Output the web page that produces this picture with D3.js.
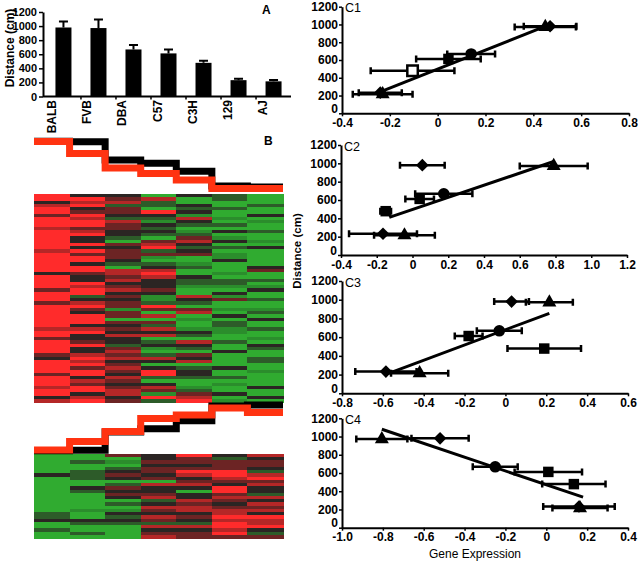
<!DOCTYPE html>
<html><head><meta charset="utf-8">
<script src="https://cdn.jsdelivr.net/npm/d3@7"></script>
<style>body{margin:0;background:#fff}svg{display:block;font-family:"Liberation Sans",Arial,sans-serif}</style>
</head><body>
<svg id="chart" width="640" height="561"></svg>
<script>
// ---------- data ----------
const strains = ["BALB","FVB","DBA","C57","C3H","129","AJ"];
const distanceMean = [980, 972, 668, 612, 478, 232, 215];
const distanceErr = [85, 120, 65, 55, 30, 20, 18];
const strainShapes = ["diamond","triangle","circle","square","square","diamond","triangle"];
const distanceTicks = [0,200,400,600,800,1000,1200];

// panel B: mean expression profile (in distance units) drawn against the distance profile
const profileTopExpr = [975, 775, 535, 440, 335, 190, 190];
const profileBottomExpr = [967, 825, 658, 442, 383, 267, 342];

// heatmap levels: R bright red, r red, d dark red, k black, e dark green, g green, G bright green
const heatLevels = ["R","r","d","k","e","g","G"];
const heatColors = ["#ff2b2b","#b52727","#6c2424","#2b2523","#2d5b29","#2b8d2c","#30ab30"];
const heatTop = [
 "RRkrRRdRRRrRRRRR"+"RrRRRRRRkRRRRdRR"+"RdRRRRRRRrRRdRRR"+"RdkRRRRdRRRrRRkr",
 "kRrRkdRrRRdrRkkR"+"kRdRRkRRdkkRrRRe"+"krRdkRRRkrRkkdRk"+"krRrRdRRkrdRRkrR",
 "kdreddkerddkkeGd"+"kdddkeGrrdrkdrkd"+"kddgddGdkdkrkked"+"rdrkdrdkrdkdrrkd",
 "GreeGRkegkekeGdr"+"RedgGekrRrkkkdkg"+"geRdGrGderkrGekg"+"GerkGkRReGkrdgRe",
 "kGGkekgrkeGgedrk"+"ekdGGgeGGkeegGGr"+"keGdrGgGGgkeGrke"+"GdkrGekkeGGgedrR",
 "eeGGeGGgGeGkGgkG"+"eGggkGGGgGeegGkg"+"dGGgGkGeeggGGeGG"+"kGGGGkGGeGgGGkGg",
 "GGGeGGkGgGGeGGgG"+"kGGGGGkdGGeGgkGG"+"eGGgeGkGGeGGgGke"+"GGeeGGgGGGGkGGkG"
];
const heatBottom = [
 "GGGGGGkGGGGGGGGGGGeekGGeGG",
 "GGeGGeeeGGkeGGGGGgGGkeGGeG",
 "dGgGekdkGedkdkGeGgkekeGGGG",
 "kkdkddkdGrkkdrekrdkrderkdr",
 "RddkdRrkdrkGkkrdrrkdkerkdd",
 "kedddRRrdkRRdrdkdrrRrRRrRd",
 "rkddkerRdrkkerkrdrkRrrRked"
];

// panels C1-C4: gene expression (x) with horizontal error, per strain
const c1Expr = [0.47, 0.45, 0.14, 0.045, -0.105, -0.24, -0.23];
const c1Err  = [0.11, 0.128, 0.10, 0.135, 0.175, 0.09, 0.125];
const c1FitX = [-0.24, 0.47], c1FitY = [240, 1000];
const c1Ticks = [-0.4,-0.2,0,0.2,0.4,0.6,0.8];

const c2Expr = [0.055, 0.79, 0.175, 0.04, -0.15, -0.165, -0.045];
const c2Err  = [0.125, 0.19, 0.16, 0.08, 0.03, 0.19, 0.17];
const c2FitX = [-0.13, 0.79], c2FitY = [410, 1020];
const c2Ticks = [-0.4,-0.2,0,0.2,0.4,0.6,0.8,1.0,1.2];

const c3Expr = [0.03, 0.215, -0.03, -0.18, 0.19, -0.585, -0.42];
const c3Err  = [0.085, 0.115, 0.11, 0.068, 0.18, 0.15, 0.14];
const c3FitX = [-0.575, 0.215], c3FitY = [210, 855];
const c3Ticks = [-0.8,-0.6,-0.4,-0.2,0,0.2,0.4,0.6];

const c4Expr = [-0.52, -0.805, -0.25, 0.01, 0.135, 0.16, 0.165];
const c4Err  = [0.14, 0.125, 0.11, 0.165, 0.155, 0.175, 0.135];
const c4FitX = [-0.805, 0.18], c4FitY = [1080, 335];
const c4Ticks = [-1.0,-0.8,-0.6,-0.4,-0.2,0,0.2,0.4];

// ---------- drawing ----------
const svg = d3.select("#chart");
const FONT = '"Liberation Sans",Arial,sans-serif';
const intFmt = d => String(d);

function styleAxis(g, size, weight) {
  g.attr("font-family", FONT).attr("font-size", size).attr("font-weight", weight);
  g.select(".domain").attr("stroke", "#000").attr("stroke-width", 2);
  g.selectAll(".tick line").attr("stroke", "#000").attr("stroke-width", 1.5);
  g.selectAll(".tick text").attr("fill", "#000");
}

// ---- Panel A ----
const xA = d3.scaleBand().domain(strains).range([46, 291]).paddingInner(0.543).paddingOuter(0.27);
const yA = d3.scaleLinear().domain([0, 1200]).range([96.5, 12]);
const gA = svg.append("g");
gA.selectAll("rect.bar").data(strains).join("rect")
  .attr("x", d => xA(d)).attr("width", xA.bandwidth())
  .attr("y", (d, i) => yA(distanceMean[i]))
  .attr("height", (d, i) => yA(0) - yA(distanceMean[i]))
  .attr("fill", "#000");
gA.selectAll("path.err").data(strains).join("path")
  .attr("d", (d, i) => {
    const cx = xA(d) + xA.bandwidth() / 2, y0 = yA(distanceMean[i]), y1 = yA(distanceMean[i] + distanceErr[i]);
    return `M${cx},${y0}V${y1}M${cx - 4.5},${y1}H${cx + 4.5}`;
  })
  .attr("stroke", "#000").attr("stroke-width", 2).attr("fill", "none");
const axA = gA.append("g").attr("transform", "translate(43,0)")
  .call(d3.axisLeft(yA).tickValues(distanceTicks).tickFormat(intFmt).tickSize(4).tickSizeOuter(0).tickPadding(2));
styleAxis(axA, 11, "bold");
gA.append("line").attr("x1", 43).attr("x2", 291).attr("y1", yA(0)).attr("y2", yA(0))
  .attr("stroke", "#000").attr("stroke-width", 2);
gA.selectAll("line.sep").data(strains.slice(0, 6)).join("line")
  .attr("x1", d => xA(d) + xA.step() - (xA.step() - xA.bandwidth()) / 2)
  .attr("x2", d => xA(d) + xA.step() - (xA.step() - xA.bandwidth()) / 2)
  .attr("y1", yA(0)).attr("y2", yA(0) + 3).attr("stroke", "#000").attr("stroke-width", 1.5);
gA.selectAll("text.cat").data(strains).join("text")
  .attr("transform", d => `translate(${xA(d) + xA.bandwidth() / 2 - 7},100) rotate(-90)`)
  .attr("text-anchor", "end").attr("font-size", 12).attr("font-weight", "bold").text(d => d);
gA.append("text").attr("transform", "translate(14,48) rotate(-90)").attr("text-anchor", "middle")
  .attr("font-size", 12).attr("font-weight", "bold").text("Distance (cm)");
gA.append("text").attr("x", 262).attr("y", 14).attr("font-size", 12).attr("font-weight", "bold").text("A");

// ---- Panel B ----
const colX = d3.scaleBand().domain(strains).range([34, 283]);
const heatColor = d3.scaleOrdinal().domain(heatLevels).range(heatColors);
function heatmap(cols, y0, y1) {
  const n = cols[0].length;
  const rowY = d3.scaleBand().domain(d3.range(n)).range([y0, y1]);
  const cells = [];
  cols.forEach((s, c) => s.split("").forEach((v, r) => cells.push({c, r, v})));
  svg.append("g").attr("shape-rendering", "crispEdges").selectAll("rect").data(cells).join("rect")
    .attr("x", d => colX(strains[d.c])).attr("width", colX.bandwidth() + 0.6)
    .attr("y", d => rowY(d.r)).attr("height", rowY.bandwidth() + 0.6)
    .attr("fill", d => heatColor(d.v));
}
heatmap(heatTop, 194, 402);
heatmap(heatBottom, 454, 538);

function profile(scale, vals, color) {
  const pts = vals.map((v, i) => [colX(strains[i]), scale(v)]);
  pts.push([colX.range()[1], scale(vals[vals.length - 1])]);
  svg.append("path").attr("d", d3.line().curve(d3.curveStepAfter)(pts))
    .attr("fill", "none").attr("stroke", color).attr("stroke-width", 7);
}
const yProfTop = d3.scaleLinear().domain([200, 1000]).range([188, 140]);
const yProfBot = d3.scaleLinear().domain([200, 1000]).range([404, 452]);
profile(yProfTop, distanceMean, "#000");
profile(yProfTop, profileTopExpr, "#ff3311");
profile(yProfBot, distanceMean, "#000");
profile(yProfBot, profileBottomExpr, "#ff3311");
svg.append("text").attr("x", 264).attr("y", 145).attr("font-size", 12).attr("font-weight", "bold").text("B");

// ---- Panels C ----
const cPanels = [
  {name: "C1", xs: c1Expr, es: c1Err, fx: c1FitX, fy: c1FitY, ticks: c1Ticks, x0: 342, x1: 629, yb: 113.3, yt: 6.7, open: true},
  {name: "C2", xs: c2Expr, es: c2Err, fx: c2FitX, fy: c2FitY, ticks: c2Ticks, x0: 341, x1: 627, yb: 255, yt: 145, open: false},
  {name: "C3", xs: c3Expr, es: c3Err, fx: c3FitX, fy: c3FitY, ticks: c3Ticks, x0: 342, x1: 628, yb: 393.3, yt: 281, open: false},
  {name: "C4", xs: c4Expr, es: c4Err, fx: c4FitX, fy: c4FitY, ticks: c4Ticks, x0: 342, x1: 628, yb: 527.7, yt: 418.3, open: false}
];
const fmt = d => d === 0 ? "0" : d.toFixed(1);
const symbolFor = {
  square: d3.symbol().type(d3.symbolSquare).size(110)(),
  diamond: d3.symbol().type(d3.symbolSquare).size(80)(),
  circle: d3.symbol().type(d3.symbolCircle).size(105)(),
  triangle: d3.symbol().type(d3.symbolTriangle).size(85)()
};
cPanels.forEach(p => {
  const x = d3.scaleLinear().domain([p.ticks[0], p.ticks[p.ticks.length - 1]]).range([p.x0, p.x1]);
  const y = d3.scaleLinear().domain([0, 1200]).range([p.yb, p.yt]);
  const g = svg.append("g");
  const ax = g.append("g").attr("transform", `translate(0,${p.yb})`)
    .call(d3.axisBottom(x).tickValues(p.ticks).tickFormat(fmt).tickSize(3).tickSizeOuter(0).tickPadding(2));
  styleAxis(ax, 12, "bold");
  const ay = g.append("g").attr("transform", `translate(${p.x0},0)`)
    .call(d3.axisLeft(y).tickValues(distanceTicks).tickFormat(intFmt).tickSize(3).tickSizeOuter(0).tickPadding(1));
  styleAxis(ay, 12, "bold");
  ay.selectAll(".tick text").filter(d => d === 0).attr("dy", "-0.08em");
  // fit line
  g.append("path").attr("d", d3.line()(p.fx.map((v, i) => [x(v), y(p.fy[i])])))
    .attr("stroke", "#000").attr("stroke-width", 3).attr("fill", "none");
  // error bars
  g.selectAll("path.eb").data(strains).join("path")
    .attr("d", (d, i) => {
      const cy = y(distanceMean[i]), xl = x(p.xs[i] - p.es[i]), xr = x(p.xs[i] + p.es[i]);
      return `M${xl},${cy}H${xr}M${xl},${cy - 3.5}V${cy + 3.5}M${xr},${cy - 3.5}V${cy + 3.5}`;
    })
    .attr("stroke", "#000").attr("stroke-width", 2.5).attr("fill", "none");
  // markers
  g.selectAll("path.pt").data(strains).join("path")
    .attr("d", (d, i) => symbolFor[strainShapes[i]])
    .attr("transform", (d, i) => `translate(${x(p.xs[i])},${y(distanceMean[i])})` + (strainShapes[i] === "diamond" ? " rotate(45)" : ""))
    .attr("fill", (d, i) => (p.open && d === "C3H") ? "#fff" : "#000")
    .attr("stroke", "#000").attr("stroke-width", (d, i) => (p.open && d === "C3H") ? 2.5 : 0);
  g.append("text").attr("x", p.x0 + 3).attr("y", p.yt + 5.5).attr("font-size", 12.5).text(p.name);
});
svg.append("text").attr("transform", "translate(301,251) rotate(-90)").attr("text-anchor", "middle")
  .attr("font-size", 11.5).attr("font-weight", "bold").text("Distance (cm)");
svg.append("text").attr("x", 475).attr("y", 558).attr("text-anchor", "middle")
  .attr("font-size", 12).text("Gene Expression");
</script>
</body></html>
